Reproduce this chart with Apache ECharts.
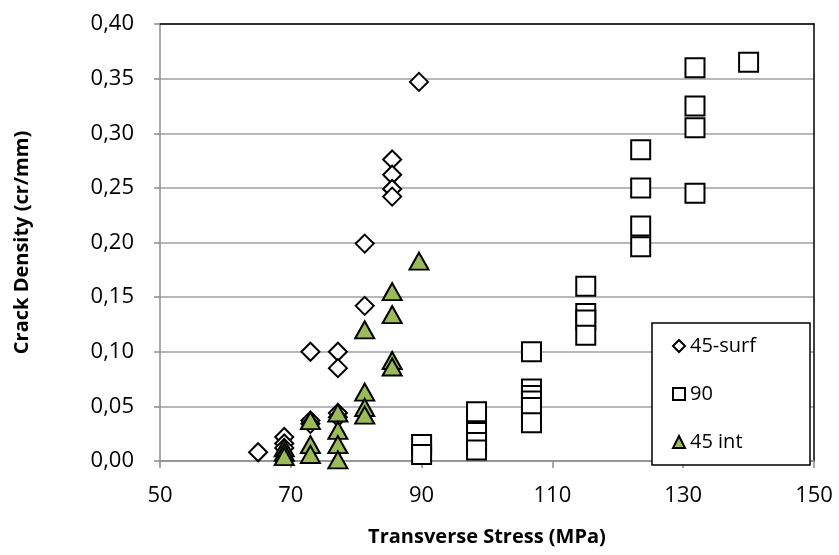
<!DOCTYPE html>
<html>
<head>
<meta charset="utf-8">
<script src="https://cdn.jsdelivr.net/npm/echarts@6/dist/echarts.min.js"></script>
<style>
html,body{margin:0;padding:0;background:#fff;}
#chart{width:839px;height:555px;}
</style>
</head>
<body>
<div id="chart"></div>
<script>
// 45-surf (diamonds)
const surfX = [65, 69, 69, 69, 73, 73, 73, 77.2, 77.2, 77.2, 77.2, 81.3, 81.3, 85.5, 85.5, 85.5, 85.5, 89.6];
const surfY = [0.008, 0.022, 0.016, 0.012, 0.100, 0.037, 0.034, 0.100, 0.085, 0.044, 0.040, 0.199, 0.142, 0.276, 0.262, 0.249, 0.242, 0.347];
// 90 (squares)
const sqX = [90, 90, 98.4, 98.4, 98.4, 98.4, 106.8, 106.8, 106.8, 106.8, 106.8, 106.8, 115.1, 115.1, 115.1, 115.1, 123.5, 123.5, 123.5, 123.5, 131.8, 131.8, 131.8, 131.8, 140];
const sqY = [0.015, 0.006, 0.045, 0.026, 0.017, 0.010, 0.100, 0.066, 0.060, 0.055, 0.049, 0.035, 0.160, 0.135, 0.129, 0.115, 0.285, 0.250, 0.215, 0.196, 0.360, 0.325, 0.305, 0.245, 0.365];
// 45 int (triangles)
const intX = [69, 69, 69, 73, 73, 73, 77.2, 77.2, 77.2, 77.2, 81.3, 81.3, 81.3, 81.3, 85.5, 85.5, 85.5, 85.5, 89.6];
const intY = [0.012, 0.008, 0.004, 0.037, 0.015, 0.006, 0.044, 0.028, 0.015, 0.001, 0.120, 0.063, 0.049, 0.042, 0.155, 0.134, 0.092, 0.086, 0.183];

const seriesNames = ['45-surf', '90', '45 int'];
const xTicks = {min: 50, max: 150, interval: 20};
const yTicks = {min: 0, max: 0.4, interval: 0.05};

const pairs = (xs, ys) => xs.map((x, i) => [x, ys[i]]);
const FONT = '"Open Sans", "Liberation Sans", sans-serif';

const chart = echarts.init(document.getElementById('chart'), null, {renderer: 'canvas'});
chart.setOption({
  animation: false,
  backgroundColor: '#fff',
  textStyle: {fontFamily: FONT, color: '#000'},
  grid: {left: 160, right: 25, top: 24, bottom: 94, containLabel: false},
  legend: {
    orient: 'vertical',
    left: 652, top: 323,
    padding: [13, 54, 13, 20],
    itemGap: 28,
    itemWidth: 12, itemHeight: 12,
    borderColor: '#000', borderWidth: 1.5,
    backgroundColor: '#fff',
    textStyle: {fontFamily: FONT, fontSize: 20, color: '#000'},
    data: seriesNames
  },
  xAxis: [{
    type: 'value', min: xTicks.min, max: xTicks.max, interval: xTicks.interval,
    axisLine: {show: true, onZero: false, lineStyle: {color: '#8c8c8c', width: 1.5}},
    axisTick: {show: true, length: 7, lineStyle: {color: '#8c8c8c', width: 1.5}},
    splitLine: {show: false},
    axisLabel: {fontFamily: FONT, fontSize: 22, color: '#000', margin: 24},
    name: 'Transverse Stress (MPa)', nameLocation: 'middle', nameGap: 66,
    nameTextStyle: {fontFamily: FONT, fontSize: 20, fontWeight: 'bold', color: '#000'}
  }, {
    type: 'value', position: 'top', min: xTicks.min, max: xTicks.max, interval: xTicks.interval,
    axisLine: {show: true, onZero: false, lineStyle: {color: '#000', width: 1.5}},
    axisTick: {show: false}, axisLabel: {show: false}, splitLine: {show: false}
  }],
  yAxis: [{
    type: 'value', min: yTicks.min, max: yTicks.max, interval: yTicks.interval,
    axisLine: {show: true, onZero: false, lineStyle: {color: '#8c8c8c', width: 1.5}},
    axisTick: {show: true, length: 6, lineStyle: {color: '#8c8c8c', width: 1.5}},
    splitLine: {show: true, lineStyle: {color: '#a0a0a0', width: 1.5}},
    axisLabel: {fontFamily: FONT, fontSize: 22, color: '#000', margin: 26,
      formatter: v => v.toFixed(2).replace('.', ',')},
    name: 'Crack Density (cr/mm)', nameLocation: 'middle', nameGap: 128,
    nameTextStyle: {fontFamily: FONT, fontSize: 20, fontWeight: 'bold', color: '#000'}
  }, {
    type: 'value', position: 'right', min: yTicks.min, max: yTicks.max, interval: yTicks.interval,
    axisLine: {show: true, onZero: false, lineStyle: {color: '#000', width: 1.5}},
    axisTick: {show: false}, axisLabel: {show: false}, splitLine: {show: false}
  }],
  series: [{
    name: seriesNames[0], type: 'scatter', symbol: 'diamond', symbolSize: [18, 18],
    itemStyle: {color: '#fff', borderColor: '#000', borderWidth: 2, opacity: 1},
    data: pairs(surfX, surfY), z: 3
  }, {
    name: seriesNames[1], type: 'scatter', symbol: 'rect', symbolSize: [19, 19],
    itemStyle: {color: '#fff', borderColor: '#000', borderWidth: 2, opacity: 1},
    data: pairs(sqX, sqY), z: 4
  }, {
    name: seriesNames[2], type: 'scatter', symbol: 'triangle', symbolSize: [19, 17],
    itemStyle: {color: '#9bbb59', borderColor: '#000', borderWidth: 2, opacity: 1},
    data: pairs(intX, intY), z: 5
  }]
});
</script>
</body>
</html>
